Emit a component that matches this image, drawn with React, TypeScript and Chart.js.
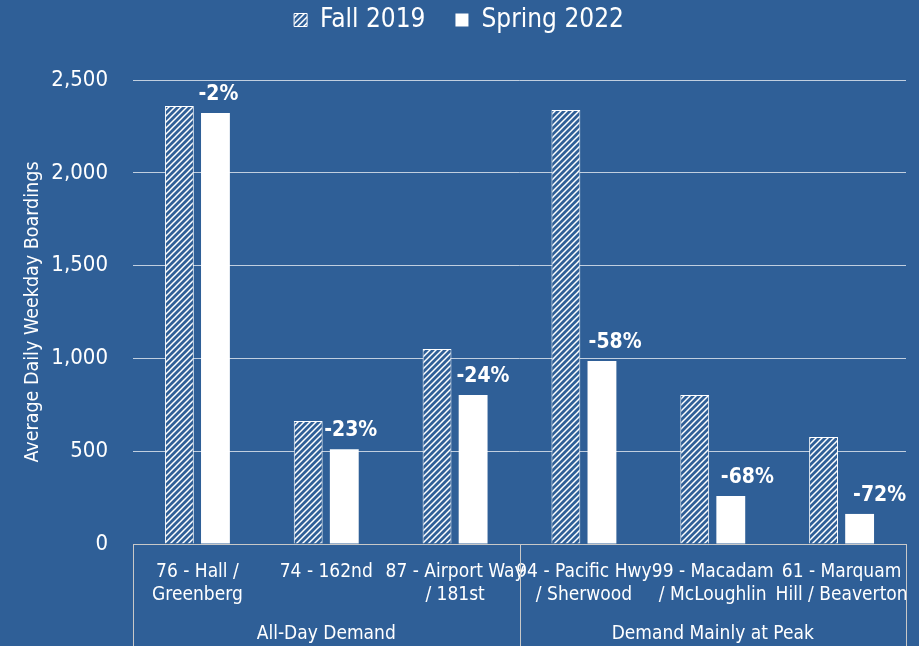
import React, { useEffect, useRef } from "react";
import { Chart, registerables } from "chart.js";

Chart.register(...registerables);

const categories: string[][] = [
  ["76 - Hall /", "Greenberg"],
  ["74 - 162nd"],
  ["87 - Airport Way", "/ 181st"],
  ["94 - Pacific Hwy", "/ Sherwood"],
  ["99 - Macadam", "/ McLoughlin"],
  ["61 - Marquam", "Hill / Beaverton"],
];
const groups = ["All-Day Demand", "Demand Mainly at Peak"];
const groupSizes = [3, 3];
const fall2019 = [2360, 663, 1051, 2338, 803, 577];
const spring2022 = [2322, 510, 803, 986, 258, 162];
const changeLabels = ["-2%", "-23%", "-24%", "-58%", "-68%", "-72%"];
const yTicks = [0, 500, 1000, 1500, 2000, 2500];

const BG = "#2f5f97";
const FONT = "'Liberation Sans Narrow', 'DejaVu Sans Condensed', 'Roboto', sans-serif";

function makeHatch(): CanvasPattern | string {
  const c = document.createElement("canvas");
  c.width = 6;
  c.height = 6;
  const g = c.getContext("2d");
  if (!g) return "#ffffff";
  g.fillStyle = BG;
  g.fillRect(0, 0, 6, 6);
  g.strokeStyle = "#ffffff";
  g.lineWidth = 1.5;
  g.beginPath();
  g.moveTo(-1, 7);
  g.lineTo(7, -1);
  g.moveTo(-1, 1);
  g.lineTo(1, -1);
  g.moveTo(5, 7);
  g.lineTo(7, 5);
  g.stroke();
  return g.createPattern(c, "repeat") || "#ffffff";
}

export default function App() {
  const ref = useRef<HTMLCanvasElement | null>(null);

  useEffect(() => {
    document.body.style.margin = "0";
    document.body.style.background = BG;
    const canvas = ref.current;
    if (!canvas) return;
    const hatch = makeHatch();

    const bgPlugin = {
      id: "bg",
      beforeUpdate(chart: any) {
        const lg = chart.legend;
        if (lg && !lg._patched) {
          const orig = lg.fit.bind(lg);
          lg.fit = function () {
            orig();
            this.height = 80;
          };
          lg._patched = true;
        }
      },
      afterLayout(chart: any) {
        const lg = chart.legend;
        if (lg) {
          const w = lg.right - lg.left;
          lg.top = -23;
          lg.left = 6;
          lg.right = 6 + w;
        }
      },
      beforeDraw(chart: any) {
        const ctx = chart.ctx;
        ctx.save();
        ctx.fillStyle = BG;
        ctx.fillRect(0, 0, chart.width, chart.height);
        ctx.restore();
      },
    };

    const extras = {
      id: "extras",
      afterDraw(chart: any) {
        const ctx = chart.ctx;
        const x = chart.scales.x;
        const area = chart.chartArea;
        const n = categories.length;
        const step = (area.right - area.left) / n;
        ctx.save();
        const meta = chart.getDatasetMeta(1);
        ctx.fillStyle = "#ffffff";
        ctx.font = `bold 21px ${FONT}`;
        ctx.textAlign = "center";
        ctx.textBaseline = "bottom";
        meta.data.forEach((bar: any, i: number) => {
          const nudge = 3 + i * 3.4;
          ctx.fillText(changeLabels[i], bar.x + nudge, bar.y - 8);
        });
        ctx.strokeStyle = "#c8c8c8";
        ctx.lineWidth = 1;
        let start = 0;
        const bounds: number[] = [0];
        groupSizes.forEach((s) => {
          start += s;
          bounds.push(start);
        });
        bounds.forEach((b) => {
          const px = Math.round(x.left + b * step) + 0.5;
          ctx.beginPath();
          ctx.moveTo(px, area.bottom);
          ctx.lineTo(px, chart.height);
          ctx.stroke();
        });
        ctx.font = `19px ${FONT}`;
        ctx.textBaseline = "middle";
        groups.forEach((g, i) => {
          const cx = x.left + ((bounds[i] + bounds[i + 1]) / 2) * step;
          ctx.fillText(g, cx, chart.height - 12);
        });
        ctx.restore();
      },
    };

    const chart = new Chart(canvas, {
      type: "bar",
      data: {
        labels: categories,
        datasets: [
          {
            label: "Fall 2019",
            data: fall2019,
            backgroundColor: hatch as any,
            borderColor: "#ffffff",
            borderWidth: 1,
            categoryPercentage: 0.56,
            barPercentage: 0.8,
          },
          {
            label: "Spring 2022",
            data: spring2022,
            backgroundColor: "#ffffff",
            borderColor: "#ffffff",
            borderWidth: 0,
            categoryPercentage: 0.56,
            barPercentage: 0.8,
          },
        ],
      },
      options: {
        responsive: false,
        animation: false,
        layout: { padding: { top: 0, right: 13, left: 0, bottom: 0 } },
        plugins: {
          tooltip: { enabled: false },
          legend: {
            position: "top",
            labels: {
              color: "#ffffff",
              font: { family: FONT, size: 26 },
              boxWidth: 13,
              boxHeight: 13,
              padding: 30,
            },
          },
        },
        scales: {
          x: {
            grid: { display: false },
            border: { display: true, color: "#c8c8c8", width: 1 },
            ticks: {
              color: "#ffffff",
              font: { family: FONT, size: 19, lineHeight: 1.22 },
              maxRotation: 0,
              minRotation: 0,
              autoSkip: false,
              padding: 8,
            },
            afterFit(scale: any) {
              scale.height = 102;
              scale.paddingLeft = 0;
              scale.paddingRight = 0;
            },
          },
          y: {
            min: 0,
            max: 2500,
            afterBuildTicks(scale: any) {
              scale.ticks = yTicks.map((v) => ({ value: v }));
            },
            grid: {
              color: "rgba(255,255,255,0.7)",
              lineWidth: 1,
              drawTicks: false,
            },
            border: { display: false },
            ticks: {
              color: "#ffffff",
              font: { family: FONT, size: 22 },
              padding: 25,
              callback: (v: any) => Number(v).toLocaleString("en-US"),
            },
            title: {
              display: true,
              text: "Average Daily Weekday Boardings",
              color: "#ffffff",
              font: { family: FONT, size: 19.5 },
              padding: { top: 21, bottom: 4 },
            },
            afterFit(scale: any) {
              scale.width = 133;
            },
          },
        },
      },
      plugins: [bgPlugin, extras],
    });
    return () => chart.destroy();
  }, []);

  return (
    <div style={{ position: "fixed", left: 0, top: 0, width: 919, height: 646, background: BG }}>
      <canvas ref={ref} width={919} height={646} style={{ display: "block" }} />
    </div>
  );
}
